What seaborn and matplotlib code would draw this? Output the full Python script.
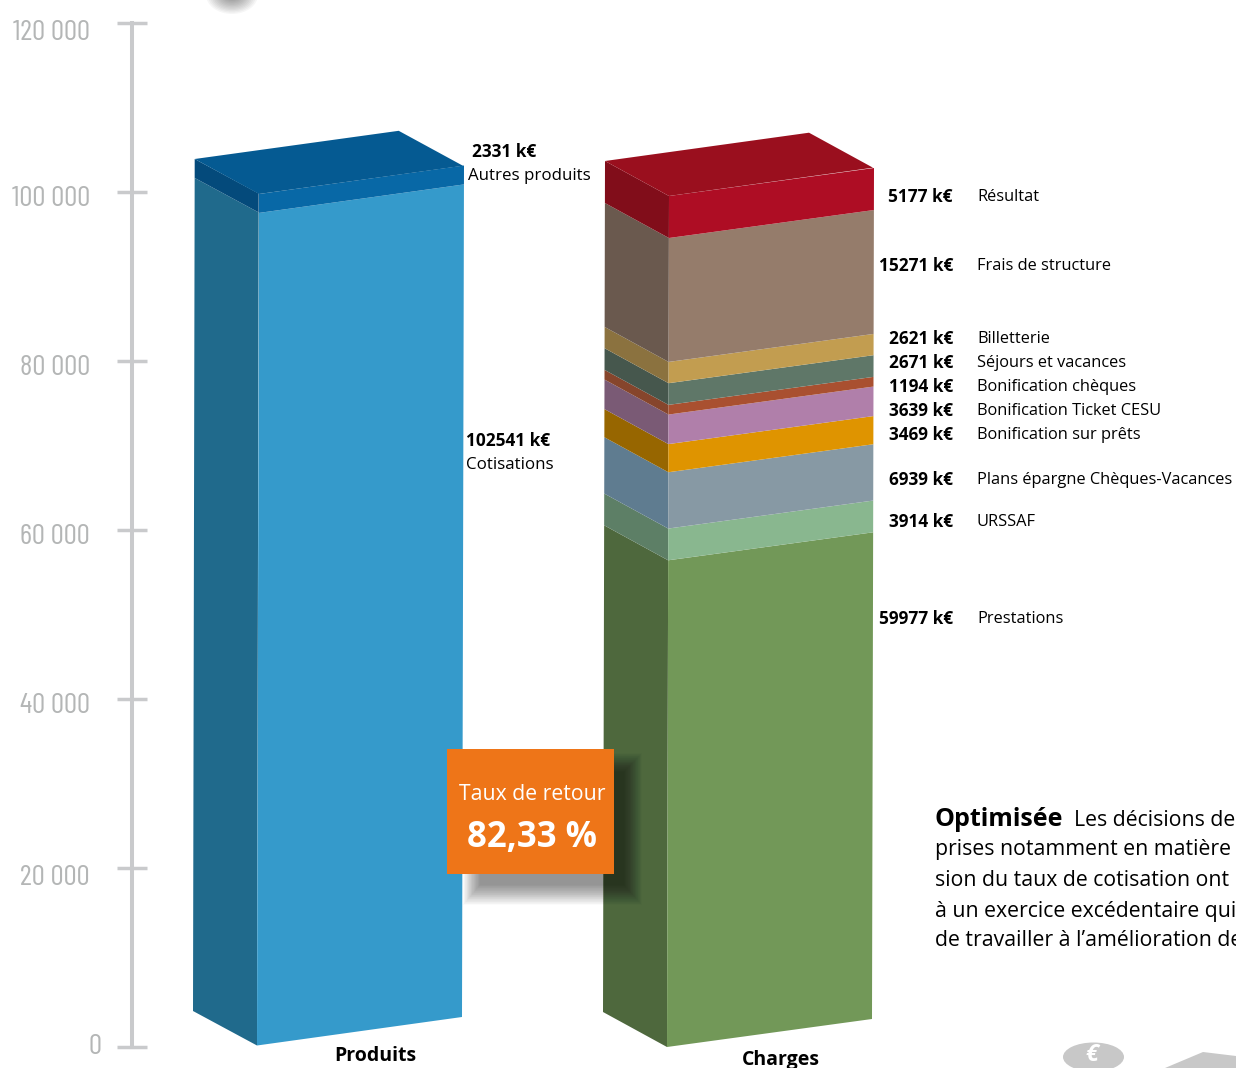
import numpy as np
import pandas as pd
import seaborn as sns
import matplotlib.pyplot as plt
from matplotlib.patches import Rectangle, Ellipse, Polygon
from matplotlib.transforms import Affine2D

# Values in k€, bottom to top
bar_names = ['Produits', 'Charges']
produits_names = ['Cotisations', 'Autres produits']
produits_values = [102541, 2331]
charges_names = ['Prestations', 'URSSAF', 'Plans épargne Chèques-Vacances', 'Bonification sur prêts',
                 'Bonification Ticket CESU', 'Bonification chèques', 'Séjours et vacances', 'Billetterie',
                 'Frais de structure', 'Résultat']
charges_values = [59977, 3914, 6939, 3469, 3639, 1194, 2671, 2621, 15271, 5177]
taux_retour = '82,33 %'

# Axis
tick_values = [0, 20000, 40000, 60000, 80000, 100000, 120000]
tick_labels = ['0', '20 000', '40 000', '60 000', '80 000', '100 000', '120 000']
tick_pixels = [1046.7, 868, 699, 530, 361, 192, 23]

# Colours: front, side, top
produits_front = ['#359ACB', '#0868A6']
produits_side = ['#206A8C', '#044A7B']
produits_top = '#055A92'
charges_front = ['#729858', '#89B78F', '#8799A4', '#DF9400', '#B07FAA', '#A95030', '#5F7768', '#C29D50', '#957C6B', '#AE0D24']
charges_side = ['#4E683D', '#5D7F66', '#5F7C90', '#976600', '#7A5A75', '#86452C', '#46574D', '#8B723F', '#6A594E', '#810D1A']
charges_top = '#9A0F1E'

# Corners of the boxes on the page, in pixels
produits_box = dict(side_bl=(193, 1011), side_tl=(194.7, 159), front_bl=(257, 1045.5),
                    front_br=(462, 1017), front_tl=(259, 194), front_tr=(463, 165.8))
charges_box = dict(side_bl=(603, 1012), side_tl=(605, 161), front_bl=(667, 1047),
                   front_br=(872, 1019), front_tl=(669, 196), front_tr=(873, 167.7))

sns.set_style('white')
plt.rcParams['font.family'] = ['Open Sans', 'DejaVu Sans']

fig = plt.figure(figsize=(12.36, 10.68), dpi=100)
ax = fig.add_axes([0, 0, 1, 1])


def face_transform(origin, u_end, v_end, pos, v0, v_span):
    # maps (category position, value) of a bar onto a parallelogram of the page
    o, u, w = np.array(origin), np.array(u_end) - origin, np.array(v_end) - origin
    a, c = u / 0.5, w / v_span
    t = o - a * (pos - 0.25) - c * v0
    return Affine2D(np.array([[a[0], c[0], t[0]], [a[1], c[1], t[1]], [0, 0, 1]])) + ax.transData


def draw_bar(name, value, bottom, color, trans):
    n = len(ax.patches)
    sns.barplot(x=[name], y=[value], order=bar_names, color=color, saturation=1, width=0.5,
                bottom=bottom, errorbar=None, linewidth=0, ax=ax)
    for p in ax.patches[n:]:
        p.set_transform(trans)


def draw_stack(pos, values, front, side, top, box):
    name = bar_names[pos]
    total = sum(values)
    side_tr = face_transform(box['side_bl'], box['front_bl'], box['side_tl'], pos, 0, total)
    front_tr = face_transform(box['front_bl'], box['front_br'], box['front_tl'], pos, 0, total)
    top_tr = face_transform(box['front_tl'], box['front_tr'], box['side_tl'], pos, total - values[-1], values[-1])
    bottoms = np.concatenate([[0], np.cumsum(values)[:-1]])
    for v, b, c_front, c_side in zip(values, bottoms, front, side):
        draw_bar(name, v, b, c_side, side_tr)
        draw_bar(name, v, b, c_front, front_tr)
    draw_bar(name, values[-1], total - values[-1], top, top_tr)


draw_stack(0, produits_values, produits_front, produits_side, produits_top, produits_box)
draw_stack(1, charges_values, charges_front, charges_side, charges_top, charges_box)

ax.set_xlim(0, 1236)
ax.set_ylim(1068, 0)
ax.axis('off')

# Graduated axis
ax_y = fig.add_axes([131.5 / 1236, (1068 - tick_pixels[0]) / 1068, 0.02, (tick_pixels[0] - tick_pixels[-1]) / 1068])
ax_y.patch.set_alpha(0)
ax_y.set_yscale('function', functions=(lambda v: np.interp(v, tick_values, -np.array(tick_pixels)),
                                       lambda p: np.interp(p, -np.array(tick_pixels), tick_values)))
ax_y.set_ylim(0, 120000)
ax_y.set_yticks(tick_values, [''] * len(tick_values))
ax_y.minorticks_off()
ax_y.set_xticks([])
sns.despine(ax=ax_y, top=True, right=True, bottom=True)
ax_y.spines['left'].set_color('#C9CACC')
ax_y.spines['left'].set_linewidth(2.9)
ax_y.tick_params(axis='y', left=True, direction='inout', length=22.3, width=2.5, color='#C9CACC')

label_font = ['Barlow Condensed', 'Roboto Condensed', 'Roboto']
label_ys = [1047, 878, 706, 537, 368, 199, 33]
for lab, y in zip(tick_labels, label_ys):
    ax.text(102 if lab == '0' else 90, y, lab, color='#B4B6B6', fontsize=21, family=label_font,
            ha='right', va='center')

# Labels of the segments
text_kw = dict(color='black', va='center')
ax.text(472, 152, f'{produits_values[1]} k€', fontsize=12.4, fontweight='bold', **text_kw)
ax.text(468, 176, produits_names[1], fontsize=12.2, **text_kw)
ax.text(466, 441, f'{produits_values[0]} k€', fontsize=12.4, fontweight='bold', **text_kw)
ax.text(466, 465, produits_names[0], fontsize=12.2, **text_kw)

charges_ys = [619, 522, 480, 435, 411, 387, 363, 339, 266, 197]
for name, v, y in zip(charges_names, charges_values, charges_ys):
    ax.text(953, y, f'{v} k€', fontsize=12.4, fontweight='bold', ha='right', **text_kw)
    ax.text(977, y, name, fontsize=11.8, **text_kw)

ax.text(375, 1056, bar_names[0], fontsize=14, fontweight='bold', ha='center', **text_kw)
ax.text(781, 1060, bar_names[1], fontsize=14, fontweight='bold', ha='center', **text_kw)

# Shadow and orange box
n_layers = 30
for i in range(n_layers):
    k = i / (n_layers - 1)
    x0, x1 = 463 + 17 * k, 642 - 18 * k
    y0, y1 = 753 + 19 * k, 905 - 20 * k
    ax.add_patch(Rectangle((x0, y0), x1 - x0, y1 - y0, facecolor='black', alpha=0.015, linewidth=0, zorder=4))
ax.add_patch(Rectangle((447, 749), 167, 125, facecolor='#EE7518', linewidth=0, zorder=5))
ax.text(532, 794, 'Taux de retour', color='white', fontsize=15.3, ha='center', va='center', zorder=6)
ax.text(532, 838, taux_retour, color='white', fontsize=25, fontweight='bold', ha='center', va='center', zorder=6)

# Paragraph cut off by the page edge
ax.text(935, 820, 'Optimisée', fontsize=18, fontweight='bold', **text_kw)
ax.text(1074, 820, 'Les décisions de', fontsize=15.3, **text_kw)
para_lines = ['prises notamment en matière', 'sion du taux de cotisation ont',
              'à un exercice excédentaire qui', 'de travailler à l’amélioration de']
for y, line in zip([850, 880, 911, 941], para_lines):
    ax.text(935, y, line, fontsize=15.3, **text_kw)

# Page decorations
ax.add_patch(Ellipse((1093.5, 1057), 61, 29, facecolor='#C8C8C8', linewidth=0))
ax.text(1092, 1055, '€', color='white', fontsize=17, fontweight='bold', style='italic', ha='center', va='center')
ax.add_patch(Polygon([(1165, 1068), (1203, 1052), (1236, 1056), (1236, 1068)], facecolor='#C8C8C8', linewidth=0))
for i in range(12):
    ax.add_patch(Ellipse((232, -5), 52 - 3.5 * i, 38 - 2.6 * i, facecolor='black', alpha=0.035, linewidth=0))

fig.savefig('out.png', dpi=100)
